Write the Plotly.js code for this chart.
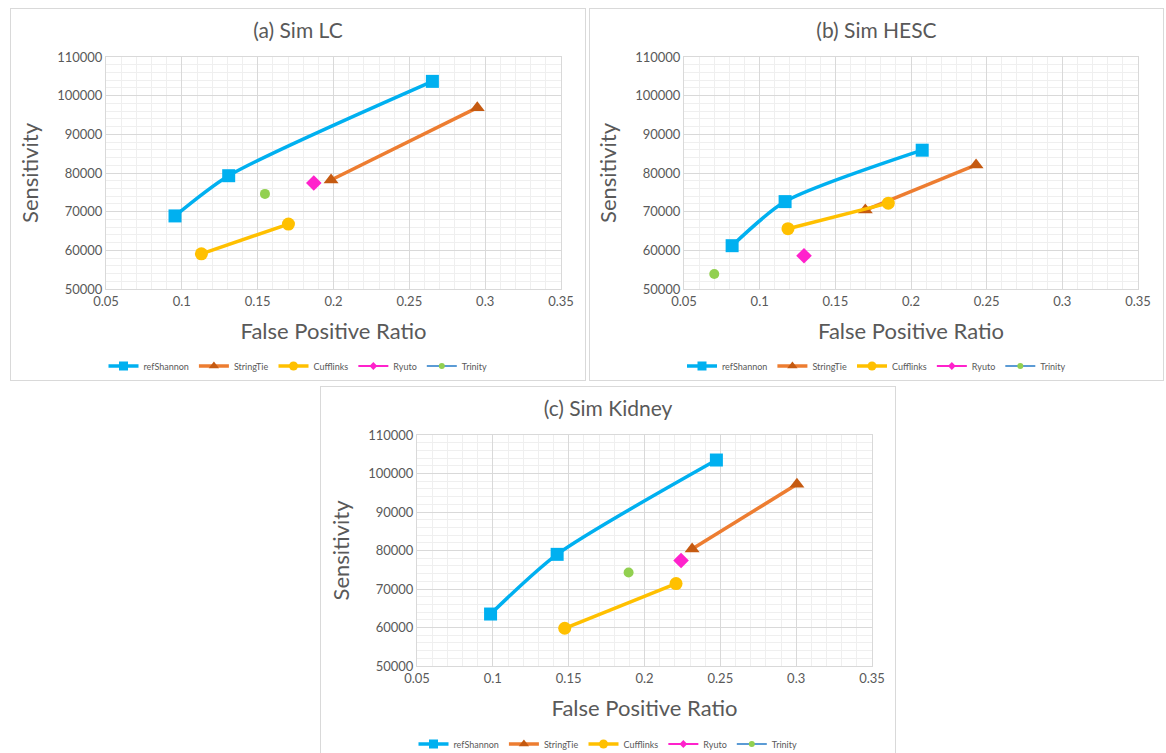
<!DOCTYPE html>
<html>
<head>
<meta charset="utf-8">
<script src="https://cdn.plot.ly/plotly-3.0.1.min.js"></script>
<style>
  html, body { margin: 0; padding: 0; background: #ffffff; width: 1166px; height: 753px; overflow: hidden; }
  .panel { position: absolute; box-sizing: border-box; border: 1px solid #d9d9d9; background: #fff; }
</style>
</head>
<body>
<div id="pa" class="panel" style="left:10px; top:8px; width:576px; height:373px;"></div>
<div id="pb" class="panel" style="left:589px; top:8px; width:575px; height:373px;"></div>
<div id="pc" class="panel" style="left:320px; top:386px; width:576px; height:370px;"></div>
<script>
// ---- Series / categories ----
const seriesNames = ['refShannon', 'StringTie', 'Cufflinks', 'Ryuto', 'Trinity'];
const panelTitles = ['(a) Sim LC', '(b) Sim HESC', '(c) Sim Kidney'];
const xAxisTitle = 'False Positive Ratio';
const yAxisTitle = 'Sensitivity';
const xTicks = [0.05, 0.1, 0.15, 0.2, 0.25, 0.3, 0.35];
const yTicks = [50000, 60000, 70000, 80000, 90000, 100000, 110000];

// ---- (a) Sim LC ----
const lcRefShannonX = [0.0955, 0.1309, 0.2652];
const lcRefShannonY = [68900, 79300, 103700];
const lcStringTieX = [0.1984, 0.2948];
const lcStringTieY = [78200, 96900];
const lcCufflinksX = [0.1129, 0.1703];
const lcCufflinksY = [59100, 66800];
const lcRyutoX = [0.187];
const lcRyutoY = [77400];
const lcTrinityX = [0.1548];
const lcTrinityY = [74600];

// ---- (b) Sim HESC ----
const hescRefShannonX = [0.0818, 0.1168, 0.2074];
const hescRefShannonY = [61200, 72600, 85900];
const hescStringTieX = [0.1698, 0.243];
const hescStringTieY = [70400, 82100];
const hescCufflinksX = [0.1187, 0.185];
const hescCufflinksY = [65600, 72200];
const hescRyutoX = [0.1293];
const hescRyutoY = [58600];
const hescTrinityX = [0.07];
const hescTrinityY = [53900];

// ---- (c) Sim Kidney ----
const kidRefShannonX = [0.0985, 0.1424, 0.2474];
const kidRefShannonY = [63500, 79000, 103500];
const kidStringTieX = [0.2314, 0.3005];
const kidStringTieY = [80400, 97200];
const kidCufflinksX = [0.1474, 0.2208];
const kidCufflinksY = [59800, 71400];
const kidRyutoX = [0.2241];
const kidRyutoY = [77400];
const kidTrinityX = [0.1895];
const kidTrinityY = [74300];

// ---- styles ----
const styles = [
  { line: '#00B0F0', marker: '#00B0F0', symbol: 'square', size: 13, lsize: 9, lw: 3.5 },
  { line: '#ED7D31', marker: '#C55A11', symbol: 'triangle-up', size: 13, lsize: 9, lw: 3.5 },
  { line: '#FFC000', marker: '#FFC000', symbol: 'circle', size: 13, lsize: 9, lw: 3.5 },
  { line: '#FF22CC', marker: '#FF22CC', symbol: 'diamond', size: 12, lsize: 6, lw: 2 },
  { line: '#5B9BD5', marker: '#92D050', symbol: 'circle', size: 10, lsize: 6, lw: 2 }
];
const FONT = 'Lato, "Open Sans", sans-serif';
const TXT = '#595959';

function makeTraces(xs, ys) {
  const data = xs.map((x, i) => ({
    type: 'scatter',
    mode: 'lines+markers',
    name: seriesNames[i],
    showlegend: false,
    x: x,
    y: ys[i],
    line: { color: styles[i].line, width: 3.5, shape: 'spline', smoothing: 0.7 },
    marker: { color: styles[i].marker, symbol: styles[i].symbol, size: styles[i].size, line: { width: 0 } },
    hoverinfo: 'x+y+name'
  }));
  // legend-only entries (no data) so legend glyphs can be smaller, like the original
  seriesNames.forEach((n, i) => {
    data.push({
      type: 'scatter', mode: 'lines+markers', name: n, showlegend: true,
      x: [null], y: [null],
      line: { color: styles[i].line, width: styles[i].lw },
      marker: { color: styles[i].marker, symbol: styles[i].symbol, size: styles[i].lsize, line: { width: 0 } },
      hoverinfo: 'skip'
    });
  });
  return data;
}

function makeLayout(title, w, h, margin) {
  return {
    width: w, height: h,
    margin: margin,
    paper_bgcolor: 'rgba(0,0,0,0)',
    plot_bgcolor: '#ffffff',
    font: { family: FONT, color: TXT },
    showlegend: true,
    title: {
      text: title,
      font: { family: FONT, size: 21, color: TXT },
      xref: 'container', x: 0.5, xanchor: 'center',
      yref: 'container', y: 1 - 22 / h, yanchor: 'middle'
    },
    xaxis: {
      range: [0.05, 0.35],
      tickvals: xTicks,
      ticktext: xTicks.map(String),
      showgrid: true, gridcolor: '#d9d9d9', gridwidth: 1,
      minor: { dtick: 0.01, showgrid: true, gridcolor: '#efefef', gridwidth: 1 },
      zeroline: false,
      showline: true, linecolor: '#d9d9d9', linewidth: 1, mirror: true,
      ticks: '',
      tickfont: { family: FONT, size: 13, color: TXT },
      title: { text: xAxisTitle, font: { family: FONT, size: 22, color: TXT }, standoff: 16 },
      automargin: false,
      fixedrange: true
    },
    yaxis: {
      range: [50000, 110000],
      tickvals: yTicks,
      ticktext: yTicks.map(String),
      showgrid: true, gridcolor: '#d9d9d9', gridwidth: 1,
      minor: { dtick: 2000, showgrid: true, gridcolor: '#efefef', gridwidth: 1 },
      zeroline: false,
      showline: true, linecolor: '#d9d9d9', linewidth: 1, mirror: true,
      ticks: '',
      tickfont: { family: FONT, size: 13, color: TXT },
      title: { text: yAxisTitle, font: { family: FONT, size: 22, color: TXT }, standoff: 12 },
      automargin: false,
      fixedrange: true
    },
    legend: {
      orientation: 'h',
      xref: 'container', x: 0.5, xanchor: 'center',
      yref: 'container', y: 1 - 357 / h, yanchor: 'middle',
      font: { family: FONT, size: 9, color: TXT },
      itemwidth: 30,
      itemsizing: 'trace',
      bgcolor: 'rgba(0,0,0,0)'
    }
  };
}

const cfg = { displayModeBar: false, staticPlot: true };

Plotly.newPlot('pa',
  makeTraces([lcRefShannonX, lcStringTieX, lcCufflinksX, lcRyutoX, lcTrinityX],
             [lcRefShannonY, lcStringTieY, lcCufflinksY, lcRyutoY, lcTrinityY]),
  makeLayout(panelTitles[0], 574, 371, { l: 95, r: 24, t: 48, b: 91 }), cfg);

Plotly.newPlot('pb',
  makeTraces([hescRefShannonX, hescStringTieX, hescCufflinksX, hescRyutoX, hescTrinityX],
             [hescRefShannonY, hescStringTieY, hescCufflinksY, hescRyutoY, hescTrinityY]),
  makeLayout(panelTitles[1], 573, 371, { l: 94, r: 25, t: 48, b: 91 }), cfg);

Plotly.newPlot('pc',
  makeTraces([kidRefShannonX, kidStringTieX, kidCufflinksX, kidRyutoX, kidTrinityX],
             [kidRefShannonY, kidStringTieY, kidCufflinksY, kidRyutoY, kidTrinityY]),
  makeLayout(panelTitles[2], 574, 368, { l: 96, r: 23, t: 48, b: 89 }), cfg);
</script>
</body>
</html>
